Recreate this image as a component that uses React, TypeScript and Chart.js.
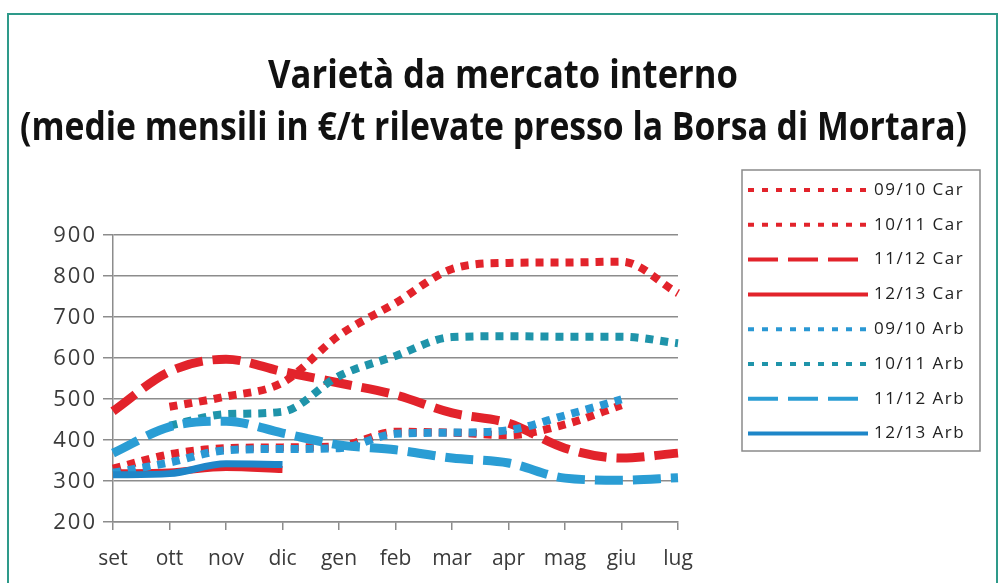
import { useEffect, useRef } from 'react';
import { Chart, registerables } from 'chart.js';
Chart.register(...registerables);

const categories = ['set', 'ott', 'nov', 'dic', 'gen', 'feb', 'mar', 'apr', 'mag', 'giu', 'lug'];

const car0910 = [330, 365, 380, 382, 385, 420, 418, 412, 438, 485, null];
const car1011 = [null, 481, 506, 540, 655, 734, 817, 832, 833, 835, 758];
const car1112 = [470, 567, 597, 567, 539, 510, 466, 441, 380, 356, 368];
const car1213 = [320, 322, 333, 328, null, null, null, null, null, null, null];
const arb0910 = [320, 345, 375, 378, 380, 415, 418, 424, 460, 499, null];
const arb1011 = [null, 435, 463, 469, 556, 605, 651, 653, 652, 652, 636];
const arb1112 = [368, 432, 446, 417, 388, 376, 356, 344, 307, 302, 308];
const arb1213 = [315, 318, 342, 340, null, null, null, null, null, null, null];

const seriesLabels = ['09/10 Car', '10/11 Car', '11/12 Car', '12/13 Car', '09/10 Arb', '10/11 Arb', '11/12 Arb', '12/13 Arb'];
const yTicks = [200, 300, 400, 500, 600, 700, 800, 900];

const titleLines = ['Varietà da mercato interno', '(medie mensili in €/t rilevate presso la Borsa di Mortara)'];

const RED = '#e2232b';
const BLUE = '#2a98d4';
const TEAL = '#1f94aa';
const BLUE2 = '#2a9dd4';
const BLUE3 = '#1e86c8';

const DOT = [8, 7];
const LONG = [28, 10];

export default function App() {
  const ref = useRef<HTMLCanvasElement>(null);
  useEffect(() => {
    document.body.style.margin = '0';
    const canvas = ref.current!;
    const styles = [
      { data: car0910, color: RED, dash: DOT, width: 8, legendDash: [6, 8] },
      { data: car1011, color: RED, dash: DOT, width: 8, legendDash: [6, 8] },
      { data: car1112, color: RED, dash: LONG, width: 9, legendDash: [30, 10] },
      { data: car1213, color: RED, dash: [], width: 7, legendDash: [] },
      { data: arb0910, color: BLUE, dash: DOT, width: 8, legendDash: [6, 8] },
      { data: arb1011, color: TEAL, dash: DOT, width: 8, legendDash: [6, 8] },
      { data: arb1112, color: BLUE2, dash: LONG, width: 9, legendDash: [30, 10] },
      { data: arb1213, color: BLUE3, dash: [], width: 7, legendDash: [] },
    ];
    const fitText = (ctx: CanvasRenderingContext2D, text: string, cx: number, baseline: number, width: number) => {
      const w = ctx.measureText(text).width;
      ctx.save();
      ctx.translate(cx, baseline);
      ctx.scale(width / w, 1);
      ctx.fillText(text, 0, 0);
      ctx.restore();
    };
    const titlePlugin = {
      id: 'twoLineTitle',
      afterDraw(chart: any) {
        const ctx = chart.ctx;
        ctx.save();
        ctx.fillStyle = '#111';
        ctx.textAlign = 'center';
        ctx.textBaseline = 'alphabetic';
        ctx.font = 'bold 39px "Open Sans"';
        fitText(ctx, titleLines[0], 503, 88, 470);
        fitText(ctx, titleLines[1], 493.5, 140, 947);
        ctx.restore();
      },
    };
    const yLabelPlugin = {
      id: 'yLabels',
      afterDraw(chart: any) {
        const ctx = chart.ctx;
        const ys = chart.scales.y;
        ctx.save();
        ctx.fillStyle = '#3a3a3a';
        ctx.font = '22px "Open Sans"';
        (ctx as any).letterSpacing = '2px';
        ctx.textAlign = 'right';
        ctx.textBaseline = 'middle';
        yTicks.forEach((v) => {
          ctx.fillText(String(v), 97, ys.getPixelForValue(v) + 1);
        });
        (ctx as any).letterSpacing = '0px';
        ctx.restore();
      },
    };
    const legendPlugin = {
      id: 'boxLegend',
      afterDraw(chart: any) {
        const ctx = chart.ctx;
        ctx.save();
        ctx.strokeStyle = '#8a8a8a';
        ctx.lineWidth = 1.5;
        ctx.strokeRect(742, 170, 238, 281);
        chart.data.datasets.forEach((ds: any, i: number) => {
          const y = 190 + i * 34.8;
          ctx.beginPath();
          ctx.setLineDash(ds.legendDash);
          ctx.lineWidth = 4;
          ctx.lineCap = 'butt';
          ctx.strokeStyle = ds.borderColor;
          ctx.moveTo(748, y);
          ctx.lineTo(868, y);
          ctx.stroke();
          ctx.setLineDash([]);
          ctx.fillStyle = '#222';
          ctx.font = '17px "Open Sans"';
          (ctx as any).letterSpacing = '1.5px';
          ctx.textAlign = 'left';
          ctx.textBaseline = 'middle';
          ctx.fillText(ds.label, 874, y);
          (ctx as any).letterSpacing = '0px';
        });
        ctx.restore();
      },
    };
    const chart = new Chart(canvas, {
      type: 'line',
      data: {
        labels: categories,
        datasets: styles.map((s, i) => ({
          label: seriesLabels[i],
          data: s.data,
          borderColor: s.color,
          backgroundColor: s.color,
          borderWidth: s.width,
          borderDash: s.dash,
          borderCapStyle: 'butt',
          pointRadius: 0,
          cubicInterpolationMode: 'monotone',
          fill: false,
          order: 8 - i,
          legendDash: s.legendDash,
        })) as any,
      },
      options: {
        responsive: false,
        animation: false,
        layout: { padding: { top: 235, right: 325, left: 0, bottom: 0 } },
        plugins: { legend: { display: false }, title: { display: false }, tooltip: { enabled: false } },
        scales: {
          x: {
            offset: false,
            grid: { drawOnChartArea: false, drawTicks: true, tickLength: 8, color: '#8c8c8c', lineWidth: 1.5 },
            border: { color: '#8c8c8c', width: 1.5 },
            ticks: { color: '#3a3a3a', font: { family: 'Open Sans', size: 21 }, padding: 16, maxRotation: 0, autoSkip: false },
            afterFit: (s: any) => { s.height = 61; },
          },
          y: {
            min: 200,
            max: 900,
            afterBuildTicks: (s: any) => { s.ticks = yTicks.map((v) => ({ value: v })); },
            grid: { color: '#8c8c8c', lineWidth: 1.5, tickLength: 10 },
            border: { color: '#8c8c8c', width: 1.5 },
            ticks: { display: false },
            afterFit: (s: any) => { s.width = 113; },
          },
        },
      },
      plugins: [titlePlugin, yLabelPlugin, legendPlugin],
    });
    return () => chart.destroy();
  }, []);
  return (
    <div style={{ position: 'relative', width: 1003, height: 583, background: '#fff' }}>
      <div style={{ position: 'absolute', left: 7, top: 13, width: 991, height: 580, border: '2px solid #2e9a8a', boxSizing: 'border-box' }} />
      <canvas ref={ref} width={1003} height={583} style={{ position: 'absolute', left: 0, top: 0 }} />
    </div>
  );
}
